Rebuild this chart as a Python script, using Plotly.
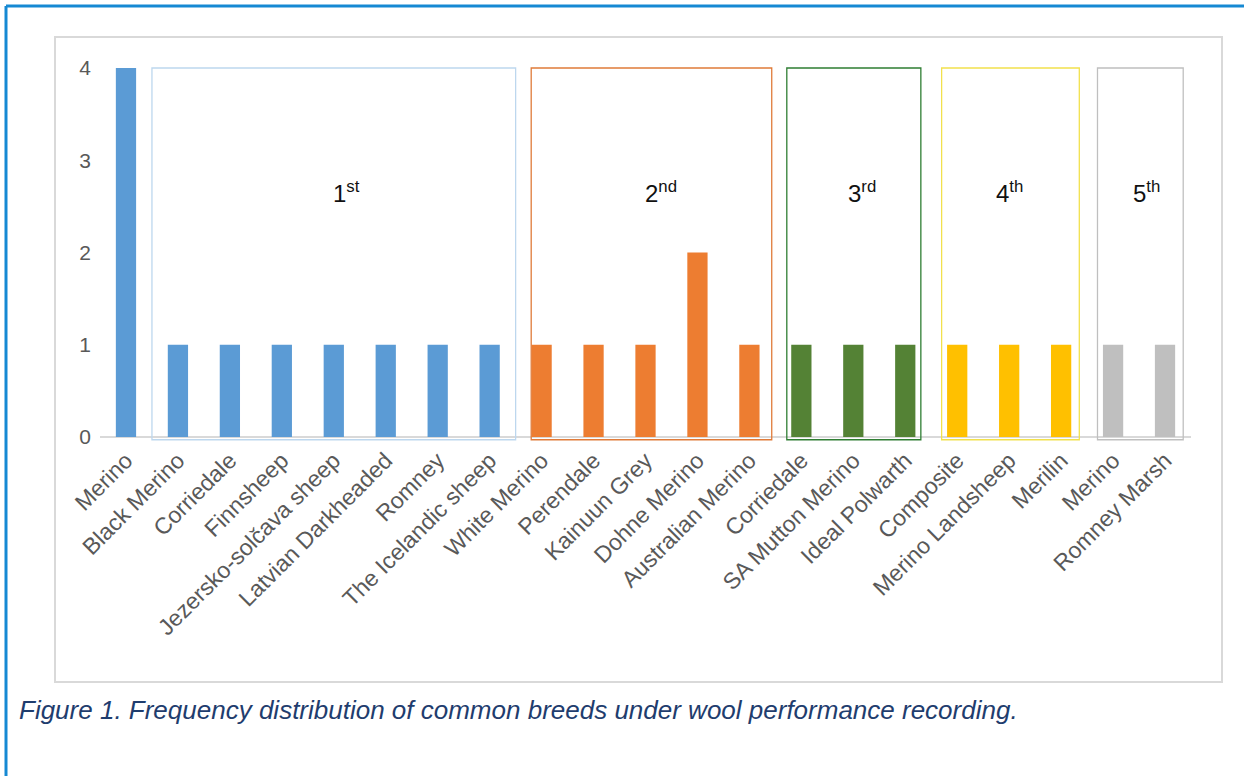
import plotly.graph_objects as go

# Breeds, in plotting order, and how many recording schemes list each one
breeds = [
    "Merino", "Black Merino", "Corriedale", "Finnsheep", "Jezersko-solčava sheep",
    "Latvian Darkheaded", "Romney", "The Icelandic sheep",
    "White Merino", "Perendale", "Kainuun Grey", "Dohne Merino", "Australian Merino",
    "Corriedale", "SA Mutton Merino", "Ideal Polwarth",
    "Composite", "Merino Landsheep", "Merilin",
    "Merino", "Romney Marsh",
]
counts = [4, 1, 1, 1, 1, 1, 1, 1,
          1, 1, 1, 2, 1,
          1, 1, 1,
          1, 1, 1,
          1, 1]
# rank group of each bar (1..5 = 1st..5th)
rank_group = [1, 1, 1, 1, 1, 1, 1, 1,
              2, 2, 2, 2, 2,
              3, 3, 3,
              4, 4, 4,
              5, 5]
group_labels = ["1<sup>st</sup>", "2<sup>nd</sup>", "3<sup>rd</sup>", "4<sup>th</sup>", "5<sup>th</sup>"]
y_ticks = [0, 1, 2, 3, 4]

bar_colors = {1: "#5B9BD5", 2: "#ED7D31", 3: "#548235", 4: "#FFC000", 5: "#BFBFBF"}
box_colors = ["#BDD7EE", "#E07B39", "#2E7D32", "#F2E14C", "#BFBFBF"]

FONT = "Liberation Sans, Arial"
x_idx = list(range(len(breeds)))
colors = [bar_colors[g] for g in rank_group]

fig = go.Figure()
fig.add_trace(go.Bar(
    x=x_idx, y=counts, marker=dict(color=colors, line=dict(width=0)),
    hoverinfo="skip", showlegend=False,
))

# boxes drawn round each rank group
box_spans = [(0.5, 7.5), (7.8, 12.43), (12.72, 15.3), (15.7, 18.35), (18.7, 20.35)]
label_x = [4.25, 10.3, 14.17, 17.0, 19.65]
shapes = []
annotations = []
for (x0, x1), col, lx, txt in zip(box_spans, box_colors, label_x, group_labels):
    shapes.append(dict(type="rect", xref="x", yref="y", x0=x0, x1=x1, y0=-0.03, y1=4.0,
                       line=dict(color=col, width=1.3), fillcolor="rgba(0,0,0,0)", layer="above"))
    annotations.append(dict(x=lx, y=2.66, xref="x", yref="y", text=txt, showarrow=False,
                            font=dict(family=FONT, size=24, color="#111111")))

# outer chart frame
shapes.append(dict(type="rect", xref="paper", yref="paper",
                   x0=55 / 1244, x1=1222 / 1244, y0=1 - 682 / 776, y1=1 - 37 / 776,
                   line=dict(color="#D9D9D9", width=2), fillcolor="rgba(0,0,0,0)", layer="below"))
# page border on top and left
shapes.append(dict(type="line", xref="paper", yref="paper",
                   x0=6 / 1244, x1=1, y0=1 - 6 / 776, y1=1 - 6 / 776,
                   line=dict(color="#1689D3", width=3)))
shapes.append(dict(type="line", xref="paper", yref="paper",
                   x0=6 / 1244, x1=6 / 1244, y0=0, y1=1 - 6 / 776,
                   line=dict(color="#1689D3", width=3)))

annotations.append(dict(
    x=17 / 1244, y=1 - 710 / 776, xref="paper", yref="paper", xanchor="left", yanchor="middle",
    text="<i>Figure 1. Frequency distribution of common breeds under wool performance recording.</i>",
    showarrow=False, font=dict(family=FONT, size=26, color="#1F3D6E"),
))

fig.update_layout(
    width=1244, height=776,
    margin=dict(l=0, r=0, t=0, b=0, pad=0),
    paper_bgcolor="white", plot_bgcolor="white",
    bargap=0.61,
    shapes=shapes, annotations=annotations,
    xaxis=dict(
        domain=[100 / 1244, 1191 / 1244], range=[-0.5, 20.5], automargin=False,
        tickmode="array", tickvals=x_idx, ticktext=breeds, tickangle=-45,
        tickfont=dict(family=FONT, size=23, color="#595959"),
        showgrid=False, zeroline=False, showline=False, ticks="",
    ),
    yaxis=dict(
        domain=[1 - 441.6 / 776, 1 - 63.4 / 776], range=[-0.05, 4.05], automargin=False,
        tickmode="array", tickvals=y_ticks, ticktext=[str(v) for v in y_ticks],
        tickfont=dict(family=FONT, size=21, color="#595959"),
        showgrid=False, zeroline=True, zerolinecolor="#D9D9D9", zerolinewidth=1.5,
        showline=False, ticks="", ticklabelstandoff=8,
    ),
)

fig.write_html("out.html")
